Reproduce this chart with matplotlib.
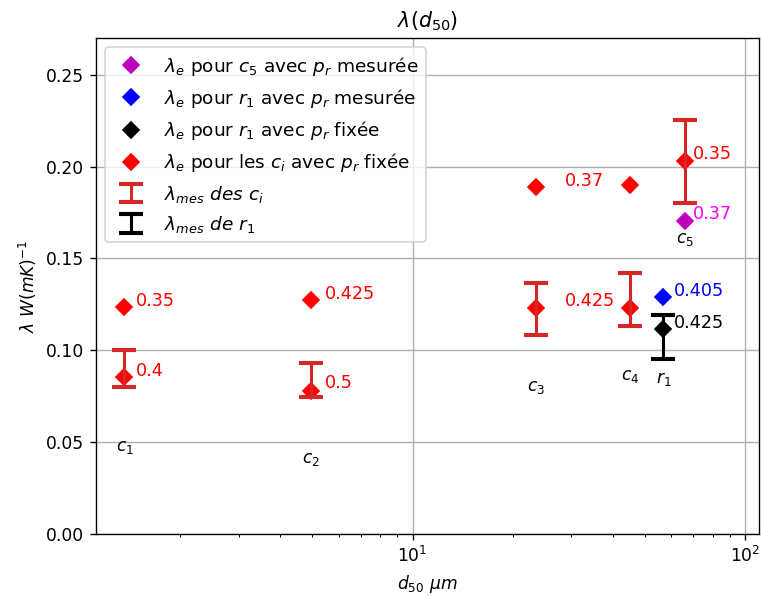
import matplotlib
matplotlib.use("Agg")
import matplotlib.pyplot as plt

# d50 of the samples (micrometres)
d50_c = [1.36, 4.95, 23.5, 45.1, 66.0]
d50_r1 = 56.8

# lambda_e of the c_i, p_r fixed (two estimates per sample)
lam_c_a = [0.1236, 0.1272, 0.1891, 0.1898, 0.2031]
lam_c_b = [0.0854, 0.0775, 0.1227, 0.1232]
lab_c_a = ["0.35", "0.425", "0.37", None, "0.35"]
lab_c_b = ["0.4", "0.5", "0.425", None]

# c5 with measured p_r, r1 measured / fixed
lam_c5_mes = 0.1703
lab_c5_mes = "0.37"
lam_r1_mes = 0.1290
lab_r1_mes = "0.405"
lam_r1_fix = 0.1117
lab_r1_fix = "0.425"

# measured lambda (error bars: low, high)
mes_c_low = [0.0799, 0.0745, 0.1085, 0.1130, 0.1800]
mes_c_high = [0.0999, 0.0930, 0.1363, 0.1421, 0.2254]
mes_r1_low = 0.0952
mes_r1_high = 0.1194

names = ["$c_1$", "$c_2$", "$c_3$", "$c_4$", "$c_5$"]

dpi = 123
fig, ax = plt.subplots(figsize=(761 / dpi, 596 / dpi), dpi=dpi)
fig.subplots_adjust(left=0.1262, right=0.9974, top=0.9362, bottom=0.1045)

ms = 7
ax.plot([d50_c[4]], [lam_c5_mes], 'D', color='m', ms=ms,
        label=r"$\lambda_e$ pour $c_5$ avec $p_r$ mesurée")
ax.plot([d50_r1], [lam_r1_mes], 'D', color='b', ms=ms,
        label=r"$\lambda_e$ pour $r_1$ avec $p_r$ mesurée")
ax.plot([d50_r1], [lam_r1_fix], 'D', color='k', ms=ms,
        label=r"$\lambda_e$ pour $r_1$ avec $p_r$ fixée")
ax.plot(d50_c, lam_c_a, 'D', color='r', ms=ms, linestyle='none',
        label=r"$\lambda_e$ pour les $c_i$ avec $p_r$ fixée")
ax.plot(d50_c[:4], lam_c_b, 'D', color='r', ms=ms, linestyle='none')

# error bars
mid_c = [(lo + hi) / 2 for lo, hi in zip(mes_c_low, mes_c_high)]
err_c = [(hi - lo) / 2 for lo, hi in zip(mes_c_low, mes_c_high)]
ax.errorbar(d50_c, mid_c, yerr=err_c, fmt='none', ecolor='#d62728',
            elinewidth=1.8, capsize=7, capthick=2.4,
            label=r"$\lambda_{mes}\ des\ c_i$")
ax.errorbar([d50_r1], [(mes_r1_low + mes_r1_high) / 2],
            yerr=[(mes_r1_high - mes_r1_low) / 2], fmt='none', ecolor='k',
            elinewidth=1.8, capsize=7, capthick=2.4,
            label=r"$\lambda_{mes}\ de\ r_1$")

# value labels (offsets in pixels)
off_a = [(11, 6), (14, 6), (29, 6), None, (8, 7)]
off_b = [(11, 6), (14, 8), (29, 7), None]
for x, y, t, o in zip(d50_c, lam_c_a, lab_c_a, off_a):
    if t:
        ax.annotate(t, (x, y), xytext=o, textcoords='offset pixels',
                    color='r', va='center', fontsize=10.3)
for x, y, t, o in zip(d50_c, lam_c_b, lab_c_b, off_b):
    if t:
        ax.annotate(t, (x, y), xytext=o, textcoords='offset pixels',
                    color='r', va='center', fontsize=10.3)
ax.annotate(lab_c5_mes, (d50_c[4], lam_c5_mes), xytext=(8, 7),
            textcoords='offset pixels', color='#ff00ff', va='center',
            fontsize=10.3)
ax.annotate(lab_r1_mes, (d50_r1, lam_r1_mes), xytext=(11, 6),
            textcoords='offset pixels', color='b', va='center', fontsize=10.3)
ax.annotate(lab_r1_fix, (d50_r1, lam_r1_fix), xytext=(11, 6),
            textcoords='offset pixels', color='k', va='center', fontsize=10.3)

# sample names
name_y = [0.0475, 0.0408, 0.0801, 0.0857, 0.1603]
for x, y, n in zip(d50_c, name_y, names):
    ax.text(x, y, n, ha='center', va='center')
ax.text(d50_r1, 0.0843, "$r_1$", ha='center', va='center')

ax.set_xscale('log')
ax.set_xlim(1.117, 110.2)
ax.set_ylim(0, 0.27)
ax.grid(True)
ax.set_title(r"$\lambda(d_{50})$")
ax.set_xlabel(r"$d_{50}\ \mu m$")
ax.set_ylabel(r"$\lambda\ W(mK)^{-1}$")
ax.legend(loc='upper left', fontsize=10.8)

fig.savefig("out.png", dpi=dpi)
